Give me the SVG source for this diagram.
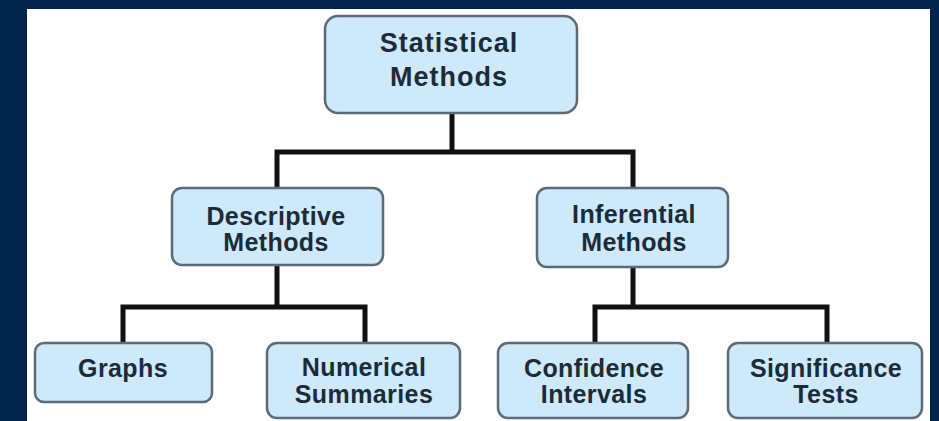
<svg xmlns="http://www.w3.org/2000/svg" width="939" height="421" viewBox="0 0 939 421">
<style>
.node rect{fill:#cde9fa;stroke:#5b6b78;stroke-width:2.5}
.node text{font-family:"Liberation Sans",Arial,sans-serif;font-weight:bold;font-size:25px;fill:#1c2b38;text-anchor:middle;letter-spacing:0.4px}
#statistical-methods text{font-size:27px;letter-spacing:1px}
.conn{fill:none;stroke:#111;stroke-width:5;stroke-linejoin:miter}
</style>
<rect x="0" y="0" width="939" height="421" fill="#00234a"/>
<rect x="27" y="9" width="903" height="412" fill="#ffffff"/>
<g id="connectors">
<path class="conn" d="M452,113 V152 M277,188 V152 H633 V188"/>
<path class="conn" d="M277,265 V307 M123,343 V307 H365 V343"/>
<path class="conn" d="M633,267 V307 M595,343 V307 H827 V343"/>
</g>
<g id="statistical-methods" class="node">
<rect x="325" y="16" width="252" height="97" rx="13"/>
<text x="449" y="52">Statistical</text>
<text x="449" y="86">Methods</text>
</g>
<g id="descriptive-methods" class="node">
<rect x="172" y="188" width="211" height="77" rx="10"/>
<text x="276" y="225">Descriptive</text>
<text x="276" y="251">Methods</text>
</g>
<g id="inferential-methods" class="node">
<rect x="537" y="188" width="191" height="79" rx="10"/>
<text x="634" y="223">Inferential</text>
<text x="634" y="251">Methods</text>
</g>
<g id="graphs" class="node">
<rect x="35" y="343" width="177" height="59" rx="9"/>
<text x="123" y="377">Graphs</text>
</g>
<g id="numerical-summaries" class="node">
<rect x="267" y="343" width="193" height="75" rx="10"/>
<text x="364" y="376">Numerical</text>
<text x="364" y="403">Summaries</text>
</g>
<g id="confidence-intervals" class="node">
<rect x="498" y="343" width="190" height="75" rx="10"/>
<text x="594" y="377">Confidence</text>
<text x="594" y="403">Intervals</text>
</g>
<g id="significance-tests" class="node">
<rect x="728" y="343" width="194" height="75" rx="10"/>
<text x="826" y="377">Significance</text>
<text x="826" y="403">Tests</text>
</g>
</svg>
